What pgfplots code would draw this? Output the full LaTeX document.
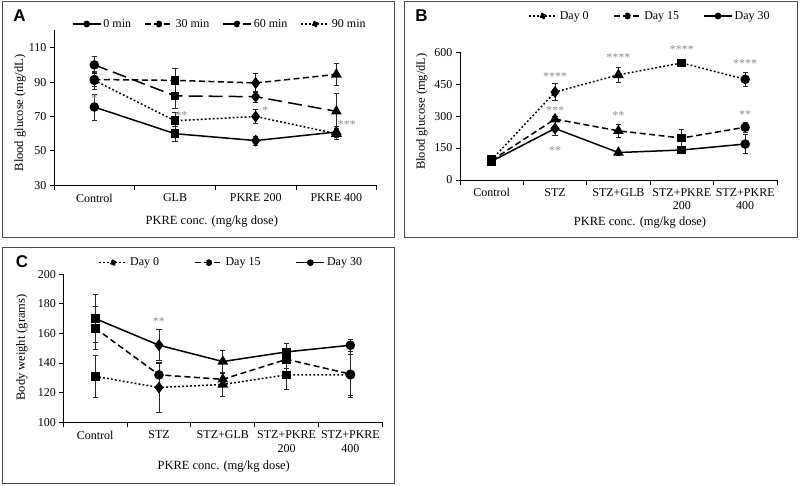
\documentclass[border=0pt]{standalone}
\usepackage{fontspec}
\setmainfont{Liberation Serif}
\newfontfamily\panelfont{Liberation Sans}
\usepackage{pgfplots}
\usepackage{pgfplotstable}
\pgfplotsset{compat=1.18}

% ---------- Panel A data (blood glucose, mg/dL) ----------
\pgfplotstableread{
x y e m
0 75.5 7.5 c
1 60 4.5 s
2 56 2.5 d
3 61 3 t
}\Azero
\pgfplotstableread{
x y e m
0 91.5 4 c
1 91 6.8 s
2 89.5 5.6 d
3 94.5 6.2 t
}\Athirty
\pgfplotstableread{
x y e m
0 100 5 c
1 82 7 s
2 81.5 3 d
3 73 10.5 t
}\Asixty
\pgfplotstableread{
x y e m
0 91 5 c
1 67.5 5 s
2 70 4 d
3 60 3 t
}\Aninety

% ---------- Panel B data (blood glucose, mg/dL) ----------
\pgfplotstableread{
x y e m
0 95 5 s
1 413 40 d
2 494 37 t
3 550 10 s
4 473 35 c
}\Bzero
\pgfplotstableread{
x y e m
0 92 5 s
1 286 12 t
2 231 32 t
3 197 41 s
4 248 25 c
}\Bfifteen
\pgfplotstableread{
x y e m
0 88 5 s
1 242 34 d
2 129 12 t
3 141 12 s
4 169 46 c
}\Bthirty

% ---------- Panel C data (body weight, grams) ----------
\pgfplotstableread{
x y e m
0 131 14 s
1 123.5 16.5 d
2 125.5 8 t
3 132 9.5 s
4 132 14 c
}\Czero
\pgfplotstableread{
x y e m
0 163.5 14.5 s
1 132 8.5 c
2 129 4 t
3 142.5 6 s
4 132.5 15.5 c
}\Cfifteen
\pgfplotstableread{
x y e m
0 170 16 s
1 152 10.5 d
2 141 7.5 t
3 147.5 5.7 s
4 152 3.8 c
}\Cthirty

\tikzset{
  signif/.style={text=black!45, font=\fontsize{12}{12}\selectfont, inner sep=0pt, yshift=-2.4pt},
  sdot/.style={dash pattern=on 1.8pt off 2.2pt},
  sdash/.style={dash pattern=on 6pt off 3.5pt},
  ldash/.style={dash pattern=on 14pt off 6pt},
  lbl/.style={font=\fontsize{12.5}{14}\selectfont, anchor=center},
}
\pgfplotsset{
  panel/.style={
    scale only axis, axis lines*=left,
    axis line style={black, line width=0.8pt},
    tick align=outside,
    major x tick style={draw=none},
    minor x tick style={black, line width=0.8pt},
    ytick style={black, line width=0.8pt},
    minor tick length=5pt, major tick length=4pt,
    tick label style={font=\fontsize{12}{13.3}\selectfont, black},
    xticklabel style={align=center, yshift=-1pt},
    /pgf/number format/assume math mode=true,
    clip=false,
    legend columns=-1,
    legend style={draw=none, fill=none, font=\fontsize{12}{14}\selectfont,
      inner sep=0pt},
  },
  series/.style={
    black, line width=1.5pt, forget plot,
    scatter, scatter src=explicit symbolic,
    scatter/classes={
      c={mark=*, mark size=4pt, black},
      s={mark=square*, mark size=3.6pt, black},
      d={mark=diamond*, mark size=4.8pt, black},
      t={mark=triangle*, mark size=4.8pt, black}},
    mark options={solid, fill=black},
    error bars/y dir=both, error bars/y explicit,
    error bars/error bar style={line width=0.7pt, solid, black!85},
    error bars/error mark options={rotate=90, mark size=2.6pt, line width=0.7pt, solid, black!85},
  },
  legline/.style={legend image code/.code={
      \draw[##1, mark=none] (0pt,0pt) -- (28pt,0pt);
      \fill[black] (14pt,0pt) circle (2.6pt);}},
}

\begin{document}
\begin{tikzpicture}[x=1pt,y=1pt]
\useasboundingbox (0,0) rectangle (800,486);
\draw[line width=1.2pt, black!70] (2.5,484.5) rectangle (394.7,248.3);
\draw[line width=1.2pt, black!70] (404.7,484.5) rectangle (797.3,248.3);
\draw[line width=1.2pt, black!70] (2.5,238.3) rectangle (394.7,2.7);
\node[font=\panelfont\bfseries\fontsize{17}{17}\selectfont] at (19.5,470) {A};
\node[font=\panelfont\bfseries\fontsize{17}{17}\selectfont] at (421.5,470) {B};
\node[font=\panelfont\bfseries\fontsize{17}{17}\selectfont] at (22,224) {C};

% ================= Panel A =================
\begin{axis}[panel, at={(54pt,300.7pt)}, anchor=south west,
  width=322.7pt, height=154.8pt,
  xmin=-0.5, xmax=3.5, ymin=30, ymax=120,
  ytick={30,50,70,90,110},
  xtick={0,1,2,3}, xticklabels={Control,GLB,PKRE 200,PKRE 400},
  minor xtick={-0.5,0.5,1.5,2.5,3.5},
  xlabel={PKRE conc. (mg/kg dose)}, ylabel={Blood glucose (mg/dL)},
  every axis x label/.style={at={(axis description cs:0.489,-0.234)}, lbl},
  every axis y label/.style={at={(axis description cs:-0.105,0.467)}, rotate=90, lbl},
  legend style={at={(axis description cs:0.055,1.042)}, anchor=west,
    /tikz/every even column/.append style={column sep=11pt}},
]
\addlegendimage{legline, black, line width=1.5pt, solid}
\addlegendentry{0 min}
\addlegendimage{legline, black, line width=1.5pt, sdash}
\addlegendentry{30 min}
\addlegendimage{legline, black, line width=1.5pt, ldash}
\addlegendentry{60 min}
\addlegendimage{legline, black, line width=1.5pt, sdot}
\addlegendentry{90 min}
\addplot[sdot, series] table[x=x, y=y, y error=e, meta=m] {\Aninety};
\addplot[ldash, series] table[x=x, y=y, y error=e, meta=m] {\Asixty};
\addplot[sdash, series] table[x=x, y=y, y error=e, meta=m] {\Athirty};
\addplot[solid, series] table[x=x, y=y, y error=e, meta=m] {\Azero};
\node[signif] at (axis cs:0,82.1) {*};
\node[signif] at (axis cs:1.08,71.9) {**};
\node[signif] at (axis cs:2.12,74.8) {*};
\node[signif] at (axis cs:3.13,66.6) {***};
\end{axis}

% ================= Panel B =================
\begin{axis}[panel, at={(459.9pt,306pt)}, anchor=south west,
  width=317pt, height=127.7pt,
  xmin=-0.5, xmax=4.5, ymin=0, ymax=600,
  ytick={0,150,300,450,600},
  xtick={0,1,2,3,4},
  xticklabels={Control,STZ,STZ+GLB,{STZ+PKRE\\200},{STZ+PKRE\\400}},
  minor xtick={-0.5,0.5,1.5,2.5,3.5,4.5},
  xlabel={PKRE conc. (mg/kg dose)}, ylabel={Blood glucose (mg/dL)},
  every axis x label/.style={at={(axis description cs:0.568,-0.331)}, lbl},
  every axis y label/.style={at={(axis description cs:-0.12,0.535)}, rotate=90, lbl},
  legend style={at={(axis description cs:0.215,1.284)}, anchor=west,
    /tikz/every even column/.append style={column sep=22pt}},
]
\addlegendimage{legline, black, line width=1.5pt, sdot}
\addlegendentry{Day 0}
\addlegendimage{legline, black, line width=1.5pt, sdash}
\addlegendentry{Day 15}
\addlegendimage{legline, black, line width=1.5pt, solid}
\addlegendentry{Day 30}
\addplot[sdot, series] table[x=x, y=y, y error=e, meta=m] {\Bzero};
\addplot[sdash, series] table[x=x, y=y, y error=e, meta=m] {\Bfifteen};
\addplot[solid, series] table[x=x, y=y, y error=e, meta=m] {\Bthirty};
\node[signif] at (axis cs:1,496) {****};
\node[signif] at (axis cs:1,339) {***};
\node[signif] at (axis cs:1,151) {**};
\node[signif] at (axis cs:2,588) {****};
\node[signif] at (axis cs:2,316) {**};
\node[signif] at (axis cs:3,622) {****};
\node[signif] at (axis cs:4,560) {****};
\node[signif] at (axis cs:4,320) {**};
\end{axis}

% ================= Panel C =================
\begin{axis}[panel, at={(63.3pt,63.7pt)}, anchor=south west,
  width=319pt, height=148.2pt,
  xmin=-0.5, xmax=4.5, ymin=100, ymax=200,
  ytick={100,120,140,160,180,200},
  xtick={0,1,2,3,4},
  xticklabels={Control,STZ,STZ+GLB,{STZ+PKRE\\200},{STZ+PKRE\\400}},
  minor xtick={-0.5,0.5,1.5,2.5,3.5,4.5},
  xlabel={PKRE conc. (mg/kg dose)}, ylabel={Body weight (grams)},
  every axis x label/.style={at={(axis description cs:0.503,-0.299)}, lbl},
  every axis y label/.style={at={(axis description cs:-0.13,0.505)}, rotate=90, lbl},
  legend style={at={(axis description cs:0.11,1.077)}, anchor=west,
    /tikz/every even column/.append style={column sep=33pt}},
]
\addlegendimage{legline, black, line width=1.5pt, sdot}
\addlegendentry{Day 0}
\addlegendimage{legline, black, line width=1.5pt, sdash}
\addlegendentry{Day 15}
\addlegendimage{legline, black, line width=1.5pt, solid}
\addlegendentry{Day 30}
\addplot[sdot, series] table[x=x, y=y, y error=e, meta=m] {\Czero};
\addplot[sdash, series] table[x=x, y=y, y error=e, meta=m] {\Cfifteen};
\addplot[solid, series] table[x=x, y=y, y error=e, meta=m] {\Cthirty};
\node[signif] at (axis cs:1,169.5) {**};
\end{axis}
\end{tikzpicture}
\end{document}
